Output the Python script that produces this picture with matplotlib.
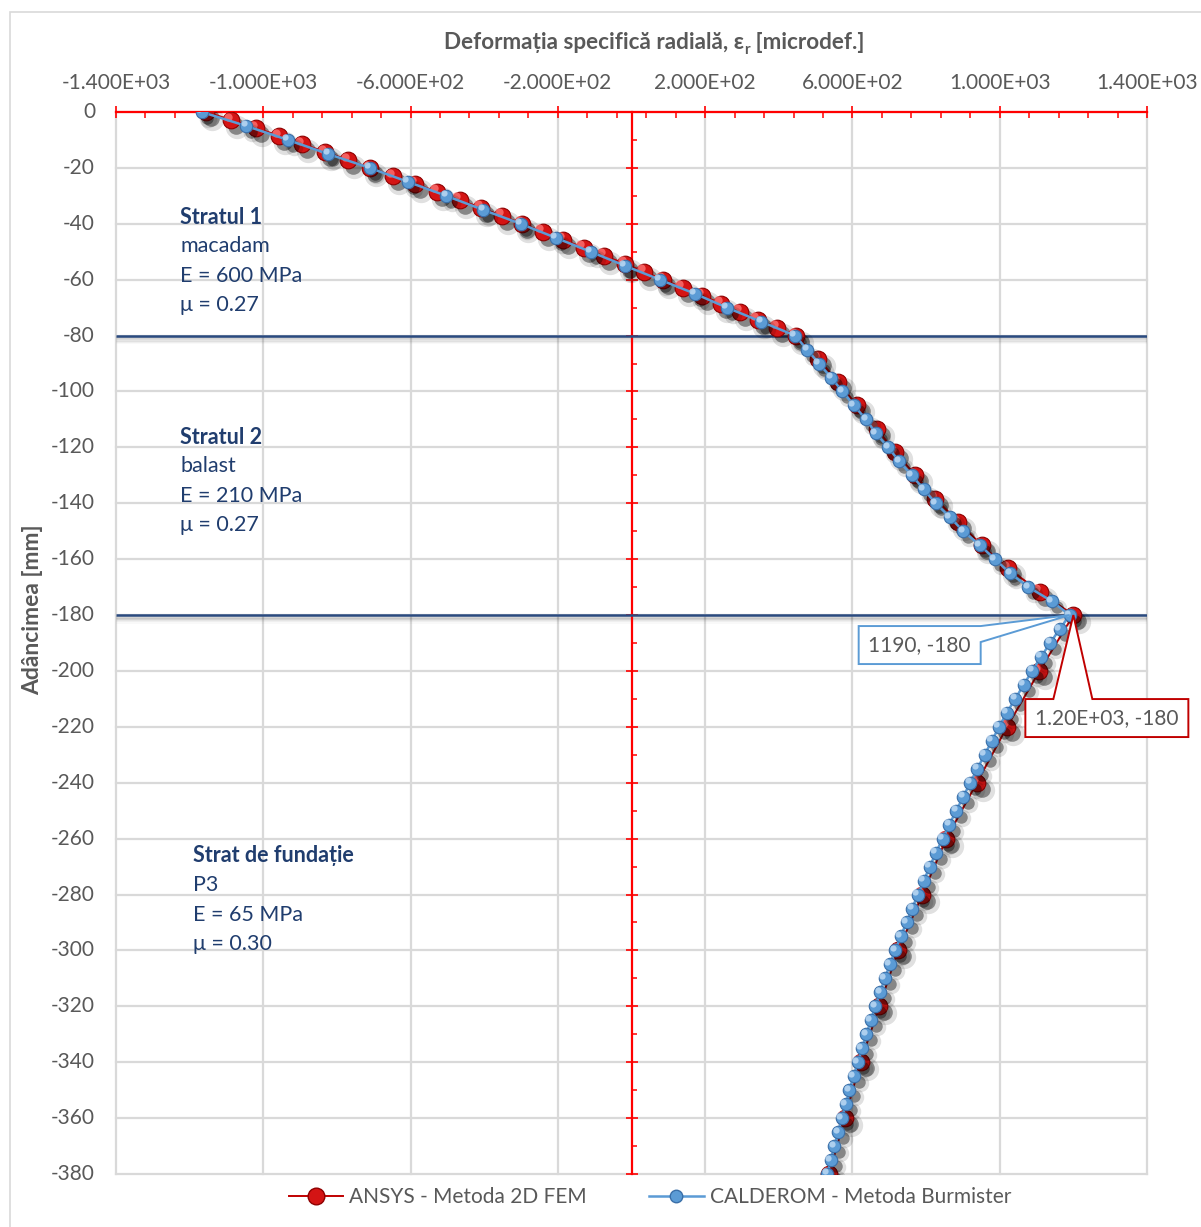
import numpy as np
import matplotlib
matplotlib.use("Agg")
import matplotlib.pyplot as plt
from matplotlib import transforms as mtransforms
from matplotlib.patches import Polygon, Rectangle
from matplotlib.lines import Line2D
from matplotlib.ticker import FixedLocator

FONT = ["Lato", "DejaVu Sans"]
plt.rcParams["font.family"] = FONT

# ---------------------------------------------------------------- data
# ANSYS - 2D FEM : depth [mm] and radial strain [microdef.]
ansys_depth = [0, -2.86, -5.71, -8.57, -11.43, -14.29, -17.14, -20.0, -22.86, -25.71,
               -28.57, -31.43, -34.29, -37.14, -40.0, -42.86, -45.71, -48.57, -51.43,
               -54.29, -57.14, -60.0, -62.86, -65.71, -68.57, -71.43, -74.29, -77.14, -80.0,
               -88.33, -96.67, -105.0, -113.33, -121.67, -130.0, -138.33, -146.67, -155.0,
               -163.33, -171.67, -180.0,
               -200, -220, -240, -260, -280, -300, -320, -340, -360, -380]
ansys_strain = [-1155, -1087, -1020, -956, -894, -832, -770, -710, -648, -587,
                -527, -467, -409, -352, -297, -241, -186, -130, -74,
                -18, 34, 86, 139, 192, 244, 295, 343, 395, 447,
                507, 562, 612, 666, 716, 771, 825, 888, 951,
                1023, 1109, 1200,
                1108, 1020, 938, 855, 790, 724, 673, 622, 579, 537]

# CALDEROM - Burmister : depth [mm] and radial strain [microdef.]
calderom_depth = [0, -5, -10, -15, -20, -25, -30, -35, -40, -45, -50, -55, -60, -65, -70, -75, -80,
                  -85, -90, -95, -100, -105, -110, -115, -120, -125, -130, -135, -140, -145,
                  -150, -155, -160, -165, -170, -175, -180,
                  -185, -190, -195, -200, -205, -210, -215, -220, -225, -230, -235, -240,
                  -245, -250, -255, -260, -265, -270, -275, -280, -285, -290, -295, -300,
                  -305, -310, -315, -320, -325, -330, -335, -340, -345, -350, -355, -360,
                  -365, -370, -375, -380]
calderom_strain = [-1167, -1046, -933, -824, -711, -607, -503, -403, -301, -206, -111, -18, 77,
                   172, 259, 352, 444,
                   477, 509, 542, 573, 604, 637, 664, 697, 727, 761, 794, 826, 865,
                   901, 946, 987, 1028, 1078, 1141, 1190,
                   1163, 1137, 1112, 1088, 1065, 1042, 1019, 998, 979, 959, 939, 920,
                   901, 882, 863, 845, 827, 810, 794, 778, 762, 747, 731, 716,
                   702, 688, 675, 662, 650, 638, 626, 615, 603, 592, 582, 571,
                   561, 551, 541, 532]

series_labels = ["ANSYS - Metoda 2D FEM", "CALDEROM - Metoda Burmister"]

x_ticks = [-1400, -1000, -600, -200, 200, 600, 1000, 1400]
y_ticks = list(range(-380, 1, 20))
layer_bounds = [-80, -180]

layer_texts = [
    ("Stratul 1", ["macadam", "E = 600 MPa", "μ = 0.27"]),
    ("Stratul 2", ["balast", "E = 210 MPa", "μ = 0.27"]),
    ("Strat de fundație", ["P3", "E = 65 MPa", "μ = 0.30"]),
]

# ---------------------------------------------------------------- style
GRAY_TXT = "#595959"
GRID = "#D9D9D9"
NAVY = "#203D6E"
AXRED = "#FF0000"
RED = "#D41414"
RED_EDGE = "#8E0000"
RED_LINE = "#C00000"
BLUE = "#5B9BD5"
BLUE_EDGE = "#3A6FA8"
TICK_FS = 15

W, H = 1201, 1227
fig = plt.figure(figsize=(W / 100, H / 100), dpi=100)
fig.patch.set_facecolor("white")


def fpos(x, y):
    return x / W, 1 - y / H


# light chart-area border
fig.add_artist(Rectangle(fpos(10, 1240), 1.05, (1240 - 12) / H, transform=fig.transFigure,
                         fill=False, ec="#D9D9D9", lw=1.2))

ax = fig.add_axes([116 / W, 1 - 1174 / H, (1147 - 116) / W, (1174 - 112) / H])
ax.set_xlim(-1400, 1400)
ax.set_ylim(-380, 0)
ax.set_facecolor("none")

# gridlines
for xv in x_ticks:
    ax.axvline(xv, color=GRID, lw=1.6, zorder=0, clip_on=False)
for yv in y_ticks:
    ax.axhline(yv, color=GRID, lw=1.6, zorder=0, clip_on=False)

# spines: top = horizontal red axis, left moved to x = 0
ax.spines["right"].set_visible(False)
ax.spines["bottom"].set_visible(False)
ax.spines["top"].set_color(AXRED)
ax.spines["top"].set_linewidth(1.6)
ax.spines["left"].set_position(("data", 0))
ax.spines["left"].set_color(AXRED)
ax.spines["left"].set_linewidth(1.6)
for sp in ax.spines.values():
    sp.set_zorder(2.2)

ax.xaxis.tick_top()
ax.set_xticks(x_ticks)
ax.set_xticklabels([f"{v:.3E}" for v in x_ticks])
ax.xaxis.set_minor_locator(FixedLocator(np.arange(-1400, 1401, 80)))
ax.tick_params(axis="x", which="major", direction="inout", length=9, width=1.2,
               color=AXRED, labelsize=TICK_FS, labelcolor=GRAY_TXT, pad=9)
ax.tick_params(axis="x", which="minor", direction="in", length=4, width=1.1, color=AXRED)

ax.set_yticks(y_ticks)
ax.yaxis.set_minor_locator(FixedLocator(np.arange(-380, 1, 10)))
ax.tick_params(axis="y", which="major", direction="inout", length=9, width=1.2,
               color=AXRED, labelleft=False)
ax.tick_params(axis="y", which="minor", direction="in", length=3.5, width=1.1, color=AXRED)

ylab_tr = mtransforms.blended_transform_factory(ax.transAxes, ax.transData)
for yv in y_ticks:
    ax.text(-21 / 1031, yv, f"{yv}", transform=ylab_tr, ha="right", va="center",
            fontsize=TICK_FS, color=GRAY_TXT)

# layer boundaries with soft shadow
for yb in layer_bounds:
    for k, a in enumerate([0.10, 0.08, 0.06, 0.04, 0.025]):
        off = mtransforms.ScaledTranslation(0, -(1.5 + 1.3 * k) / 100, fig.dpi_scale_trans)
        ax.plot([-1400, 1400], [yb, yb], color="black", alpha=a, lw=2.2,
                transform=ax.transData + off, zorder=1.5, solid_capstyle="butt")
    ax.plot([-1400, 1400], [yb, yb], color="#2A4A7F", lw=1.8, zorder=2.4,
            solid_capstyle="butt")


def offset(dx_px, dy_px):
    return ax.transData + mtransforms.ScaledTranslation(dx_px / 100, dy_px / 100,
                                                        fig.dpi_scale_trans)


def sphere_series(xs, ys, ms, base, edge, light, line_color, line_w, z):
    # drop shadow
    ax.plot(xs, ys, "o", ms=ms * 1.4, color="black", alpha=0.12, mec="none",
            transform=offset(6, -7), zorder=z)
    ax.plot(xs, ys, "o", ms=ms * 1.0, color="black", alpha=0.40, mec="none",
            transform=offset(5, -6), zorder=z)
    ax.plot(xs, ys, "-", color=line_color, lw=line_w, zorder=z + 0.1)
    ax.plot(xs, ys, "o", ms=ms, mfc=base, mec=edge, mew=0.8, ls="none", zorder=z + 0.2)
    ax.plot(xs, ys, "o", ms=ms * 0.5, mfc=light, mec="none", alpha=0.75, ls="none",
            transform=offset(-ms * 0.28, ms * 0.28), zorder=z + 0.3)


sphere_series(ansys_strain, ansys_depth, 12, RED, RED_EDGE, "#FF7A7A", RED_LINE, 1.4, 3)
sphere_series(calderom_strain, calderom_depth, 9, BLUE, BLUE_EDGE, "#C9E1F7", BLUE, 1.8, 5)

# layer descriptions
LAYER_FS = 15.5
layer_pos = [(180, 217), (180, 437), (193, 856)]
for (head, lines), (lx, ly) in zip(layer_texts, layer_pos):
    fig.text(*fpos(lx, ly), head, ha="left", va="center", fontsize=LAYER_FS,
             fontweight="bold", color=NAVY, family=FONT)
    for i, s in enumerate(lines):
        fig.text(*fpos(lx, ly + 29.3 * (i + 1)), s, ha="left", va="center",
                 fontsize=LAYER_FS, color=NAVY, family=FONT)


# data-label callouts
def callout(xv, yv, verts, text_off, label, edge):
    fig.canvas.draw()
    tip = ax.transData.transform((xv, yv))
    pts = [(tip[0] + dx, tip[1] - dy) for dx, dy in verts]
    fig.add_artist(Polygon(pts, closed=True, fc="white", ec=edge, lw=1.4,
                           transform=mtransforms.IdentityTransform(), zorder=20))
    fig.add_artist(plt.Text(tip[0] + text_off[0], tip[1] - text_off[1], label,
                            ha="center", va="center", fontsize=15, color=GRAY_TXT,
                            family=FONT, transform=mtransforms.IdentityTransform(),
                            zorder=21))


i_b = calderom_depth.index(-180)
callout(calderom_strain[i_b], calderom_depth[i_b],
        [(-211, 11), (-89, 11), (0, 0), (-89, 27), (-89, 49), (-211, 49)],
        (-150, 30), f"{calderom_strain[i_b]}, {calderom_depth[i_b]}", "#5B9BD5")
i_r = ansys_depth.index(-180.0)
callout(ansys_strain[i_r], ansys_depth[i_r],
        [(-48, 84), (-20, 84), (0, 0), (19, 84), (115, 84), (115, 122), (-48, 122)],
        (33, 103), f"{ansys_strain[i_r]:.2E}, {int(ansys_depth[i_r])}", "#C00000")

# axis titles
renderer = fig.canvas.get_renderer()
kw = dict(fontsize=16.2, fontweight="bold", color=GRAY_TXT, va="baseline", family=FONT)
t1 = fig.text(0, 0, "Deformația specifică radială, ε", **kw)
t2 = fig.text(0, 0, "r", **{**kw, "fontsize": 11})
t3 = fig.text(0, 0, " [microdef.]", **kw)
w1 = t1.get_window_extent(renderer).width
w2 = t2.get_window_extent(renderer).width
w3 = t3.get_window_extent(renderer).width
x0 = 654 - (w1 + w2 + w3) / 2
base_y = 49
t1.set_position(fpos(x0, base_y))
t2.set_position(fpos(x0 + w1, base_y + 5))
t3.set_position(fpos(x0 + w1 + w2, base_y))

fig.text(*fpos(33, 610), "Adâncimea [mm]", rotation=90, ha="center", va="center",
         fontsize=16.5, fontweight="bold", color=GRAY_TXT, family=FONT)

# legend
handles = [
    Line2D([], [], color=RED_LINE, lw=1.4, marker="o", ms=12, mfc=RED, mec=RED_EDGE),
    Line2D([], [], color=BLUE, lw=1.8, marker="o", ms=9, mfc=BLUE, mec=BLUE_EDGE),
]
fig.legend(handles, series_labels, loc="center", bbox_to_anchor=fpos(650, 1197), ncol=2,
           frameon=False, labelcolor=GRAY_TXT, handlelength=2.6,
           handletextpad=0.3, columnspacing=3.0, prop={"family": FONT, "size": 15})

fig.savefig("out.png", dpi=100)
